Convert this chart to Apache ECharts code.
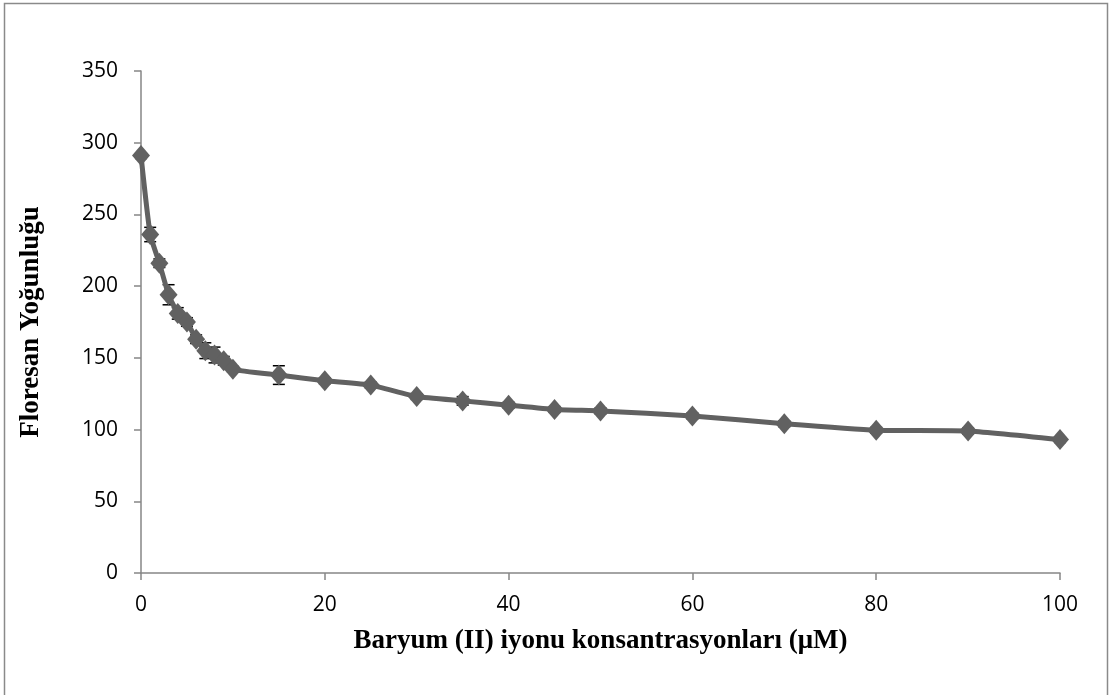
<!DOCTYPE html>
<html>
<head>
<meta charset="utf-8">
<script src="https://cdn.jsdelivr.net/npm/echarts@6/dist/echarts.min.js"></script>
<style>
  html, body { margin: 0; padding: 0; background: #fff; }
  #chart { width: 1110px; height: 695px; }
</style>
</head>
<body>
<div id="chart"></div>
<script>
// Barium (II) concentration in µM
const concentrations = [0, 1, 2, 3, 4, 5, 6, 7, 8, 9, 10, 15, 20, 25, 30, 35, 40, 45, 50, 60, 70, 80, 90, 100];
// Fluorescence intensity at each concentration
const intensity = [291, 236, 216, 194, 181, 175, 163, 155, 152, 148, 142, 138, 134, 131, 123, 120, 117, 114, 113, 109.5, 104, 99.5, 99, 93];
// Standard deviation for each measurement
const deviation = [2, 5, 3, 7, 4, 3, 3, 5.5, 5.5, 3, 2, 6.5, 2, 2, 2, 3, 2, 2, 2, 2, 2, 2, 2, 2];

const yTicks = [0, 50, 100, 150, 200, 250, 300, 350];
const xTicks = [0, 20, 40, 60, 80, 100];

const xTitle = 'Baryum (II) iyonu konsantrasyonları (μM)';
const yTitle = 'Floresan Yoğunluğu';

const points = concentrations.map((c, i) => [c, intensity[i]]);
const errorRows = concentrations.map((c, i) => [c, intensity[i] - deviation[i], intensity[i] + deviation[i]]);

const axisGray = '#868686';
const lineGray = '#616161';

const chart = echarts.init(document.getElementById('chart'), null, { renderer: 'canvas' });

chart.setOption({
  animation: false,
  backgroundColor: '#ffffff',
  graphic: [{
    type: 'rect',
    shape: { x: 4.5, y: 3.5, width: 1103, height: 720 },
    style: { fill: 'none', stroke: '#8a8a8a', lineWidth: 1.5 },
    silent: true
  }],
  grid: { left: 141, right: 50, top: 71, bottom: 122, containLabel: false },
  xAxis: {
    type: 'value',
    min: xTicks[0],
    max: xTicks[xTicks.length - 1],
    interval: 20,
    name: xTitle,
    nameLocation: 'middle',
    nameGap: 55,
    nameTextStyle: { fontFamily: 'Liberation Serif', fontWeight: 'bold', fontSize: 27, color: '#000' },
    axisLine: { show: true, onZero: false, lineStyle: { color: axisGray, width: 1.5 } },
    axisTick: { show: true, length: 7, lineStyle: { color: axisGray, width: 1.5 } },
    axisLabel: { fontFamily: 'Open Sans', fontSize: 21, color: '#000', margin: 22 },
    splitLine: { show: false }
  },
  yAxis: {
    type: 'value',
    min: yTicks[0],
    max: yTicks[yTicks.length - 1],
    interval: 50,
    name: yTitle,
    nameLocation: 'middle',
    nameGap: 96,
    nameRotate: 90,
    nameTextStyle: { fontFamily: 'Liberation Serif', fontWeight: 'bold', fontSize: 27, color: '#000' },
    axisLine: { show: true, onZero: false, lineStyle: { color: axisGray, width: 1.5 } },
    axisTick: { show: true, length: 7, lineStyle: { color: axisGray, width: 1.5 } },
    axisLabel: { fontFamily: 'Open Sans', fontSize: 21, color: '#000', margin: 23 },
    splitLine: { show: false }
  },
  series: [
    {
      type: 'custom',
      name: 'std',
      z: 1,
      data: errorRows,
      renderItem: function (params, api) {
        const x = api.value(0);
        const lo = api.coord([x, api.value(1)]);
        const hi = api.coord([x, api.value(2)]);
        const half = 6;
        const style = { stroke: '#000', lineWidth: 1.5, fill: 'none' };
        return {
          type: 'group',
          children: [
            { type: 'line', shape: { x1: lo[0], y1: lo[1], x2: hi[0], y2: hi[1] }, style: style },
            { type: 'line', shape: { x1: lo[0] - half, y1: lo[1], x2: lo[0] + half, y2: lo[1] }, style: style },
            { type: 'line', shape: { x1: hi[0] - half, y1: hi[1], x2: hi[0] + half, y2: hi[1] }, style: style }
          ]
        };
      }
    },
    {
      type: 'line',
      name: 'intensity',
      z: 2,
      data: points,
      smooth: 0.15,
      symbol: 'diamond',
      symbolSize: [18, 21],
      itemStyle: { color: lineGray },
      lineStyle: { color: lineGray, width: 5 }
    }
  ]
});
</script>
</body>
</html>
